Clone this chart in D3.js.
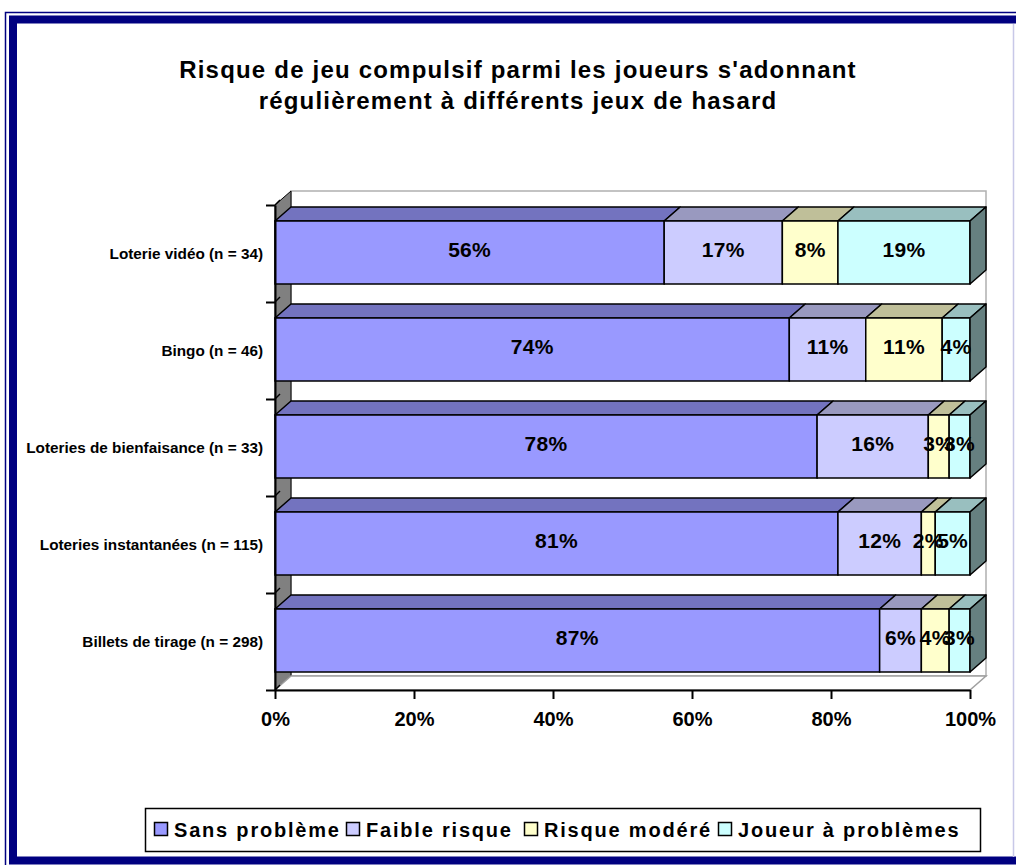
<!DOCTYPE html>
<html>
<head>
<meta charset="utf-8">
<script src="https://cdn.jsdelivr.net/npm/d3@7"></script>
<style>
  body { margin: 0; background: #fff; }
  svg text { font-family: "Liberation Sans", Arial, sans-serif; font-weight: bold; fill: #000; }
</style>
</head>
<body>
<div id="chart"></div>
<script>
// data
const categories = [
    "Loterie vidéo (n = 34)",
    "Bingo (n = 46)",
    "Loteries de bienfaisance (n = 33)",
    "Loteries instantanées (n = 115)",
    "Billets de tirage (n = 298)"
];
const seriesNames = ["Sans problème", "Faible risque", "Risque modéré", "Joueur à problèmes"];
const sansProbleme = [56, 74, 78, 81, 87];
const faibleRisque = [17, 11, 16, 12, 6];
const risqueModere = [8, 11, 3, 2, 4];
const joueurProblemes = [19, 4, 3, 5, 3];
const xTicks = [0, 20, 40, 60, 80, 100];
const titleLines = [
    "Risque de jeu compulsif parmi les joueurs s'adonnant",
    "régulièrement à différents jeux de hasard"
];

const colors = ["#9999FF", "#CCCCFF", "#FFFFCC", "#CCFFFF"];

const W = 1016, H = 865;
const svg = d3.select("#chart").append("svg")
    .attr("width", W).attr("height", H);

// outer frame
svg.append("rect").attr("x", 5.5).attr("y", 12.5).attr("width", 1020).attr("height", 860)
    .attr("fill", "none").attr("stroke", "#000080").attr("stroke-width", 1.5);
svg.append("rect").attr("x", 13).attr("y", 19.5).attr("width", 1020).attr("height", 841)
    .attr("fill", "none").attr("stroke", "#000080").attr("stroke-width", 8);
svg.append("line").attr("x1", 1013.5).attr("x2", 1013.5).attr("y1", 24).attr("y2", 857)
    .attr("stroke", "#c8c8e8").attr("stroke-width", 1.5);

// title
svg.append("text")
    .attr("x", 518).attr("y", 78)
    .attr("text-anchor", "middle")
    .style("font-size", "24px")
    .style("letter-spacing", "1.2px")
    .selectAll("tspan")
    .data(titleLines)
    .join("tspan")
    .attr("x", 518)
    .attr("dy", (d, i) => i ? 31 : 0)
    .text(d => d);

// geometry
const dx = 16, dy = 14;
const x0 = 275, x1 = 970, yTop = 205, yBot = 690;

const x = d3.scaleLinear().domain([0, 100]).range([x0, x1]);
const y = d3.scaleBand().domain(categories).range([yTop, yBot]);
const yEdge = d3.scaleLinear().domain([0, categories.length]).range([yTop, yBot]);

// back wall + left wall + floor
const g = svg.append("g");
g.append("polygon")
    .attr("points", [[x0 + dx, yTop - dy], [x1 + dx, yTop - dy], [x1 + dx, yBot - dy], [x0 + dx, yBot - dy]].join(" "))
    .attr("fill", "#fff").attr("stroke", "#b0b0b0").attr("stroke-width", 1.5);
g.append("polygon")
    .attr("points", [[x0, yTop], [x0 + dx, yTop - dy], [x0 + dx, yBot - dy], [x0, yBot]].join(" "))
    .attr("fill", "#808080").attr("stroke", "#000").attr("stroke-width", 1);
g.append("polygon")
    .attr("points", [[x0, yBot], [x0 + dx, yBot - dy], [x1 + dx, yBot - dy], [x1, yBot]].join(" "))
    .attr("fill", "#fff").attr("stroke", "#a0a0a0").attr("stroke-width", 1.5);

// small diagonal lines on the left wall at category edges
g.selectAll(".wallline")
    .data(d3.range(categories.length + 1))
    .join("line")
    .attr("x1", x0).attr("y1", d => yEdge(d))
    .attr("x2", x0 + 5).attr("y2", d => yEdge(d) - 5)
    .attr("stroke", "#000").attr("stroke-width", 1.5);

// stack
const rows = categories.map((c, i) => ({
    cat: c,
    "Sans problème": sansProbleme[i],
    "Faible risque": faibleRisque[i],
    "Risque modéré": risqueModere[i],
    "Joueur à problèmes": joueurProblemes[i]
}));
const stacked = d3.stack().keys(seriesNames)(rows);

const barH = 63;
const frontTop = c => y(c) + (y.bandwidth() - barH) / 2 - 1;
const topCol = col => { const c = d3.rgb(col); return d3.rgb(c.r * 0.75, c.g * 0.75, c.b * 0.75); };
const sideCol = col => { const c = d3.rgb(col); return d3.rgb(c.r * 0.5, c.g * 0.5, c.b * 0.5); };

const bars = svg.append("g");
categories.forEach((c, ci) => {
    const bg = bars.append("g");
    const ft = frontTop(c);
    stacked.forEach((s, si) => {
        const d = s[ci];
        const a = x(d[0]), b = x(d[1]);
        // top face
        bg.append("polygon")
            .attr("points", [[a, ft], [a + dx, ft - dy], [b + dx, ft - dy], [b, ft]].join(" "))
            .attr("fill", topCol(colors[si])).attr("stroke", "#000").attr("stroke-width", 1.5)
            .attr("stroke-linejoin", "round");
        // front face
        bg.append("rect")
            .attr("x", a).attr("y", ft).attr("width", b - a).attr("height", barH)
            .attr("fill", colors[si]).attr("stroke", "#000").attr("stroke-width", 1.5);
    });
    // right side face of the last segment
    const last = stacked[stacked.length - 1][ci];
    const e = x(last[1]);
    bg.append("polygon")
        .attr("points", [[e, ft], [e + dx, ft - dy], [e + dx, ft + barH - dy], [e, ft + barH]].join(" "))
        .attr("fill", sideCol(colors[3])).attr("stroke", "#000").attr("stroke-width", 1.5)
        .attr("stroke-linejoin", "round");
    // value labels
    stacked.forEach((s, si) => {
        const d = s[ci];
        bg.append("text")
            .attr("x", (x(d[0]) + x(d[1])) / 2)
            .attr("y", ft + barH / 2 + 4)
            .attr("text-anchor", "middle")
            .style("font-size", "21px")
            .style("letter-spacing", "0.3px")
            .text(d.data[s.key] + "%");
    });
});

// left axis: line + ticks at category boundaries
const yAxis = svg.append("g")
    .attr("transform", `translate(${x0},0)`)
    .call(d3.axisLeft(yEdge).tickValues(d3.range(categories.length + 1)).tickFormat("").tickSize(9).tickSizeOuter(0));
yAxis.selectAll("path, line").attr("stroke", "#000").attr("stroke-width", 2);

svg.append("g").selectAll("text")
    .data(categories)
    .join("text")
    .attr("x", 263)
    .attr("y", d => y(d) + y.bandwidth() / 2)
    .attr("dy", "0.35em")
    .attr("text-anchor", "end")
    .style("font-size", "15.3px")
    .text(d => d);

// bottom axis
const xAxis = svg.append("g")
    .attr("transform", `translate(0,${yBot})`)
    .call(d3.axisBottom(x).tickValues(xTicks).tickFormat(d => d + "%").tickSize(9).tickPadding(13).tickSizeOuter(0));
xAxis.selectAll("path, line").attr("stroke", "#000").attr("stroke-width", 2);
xAxis.selectAll("text")
    .attr("fill", "#000")
    .style("font-size", "20px")
    .style("font-family", "'Liberation Sans', Arial, sans-serif")
    .style("font-weight", "bold");

// legend
const legend = svg.append("g");
legend.append("rect")
    .attr("x", 145.5).attr("y", 808.5).attr("width", 835).attr("height", 43)
    .attr("fill", "#fff").attr("stroke", "#000").attr("stroke-width", 1.5);
const legendX = [154, 346, 524, 718];
seriesNames.forEach((name, i) => {
    legend.append("rect")
        .attr("x", legendX[i] + 0.5).attr("y", 822.5).attr("width", 13).attr("height", 13)
        .attr("fill", colors[i]).attr("stroke", "#000").attr("stroke-width", 1.5);
    legend.append("text")
        .attr("x", legendX[i] + 20).attr("y", 837)
        .style("font-size", "20px")
        .style("letter-spacing", "1.8px")
        .text(name);
});
</script>
</body>
</html>
